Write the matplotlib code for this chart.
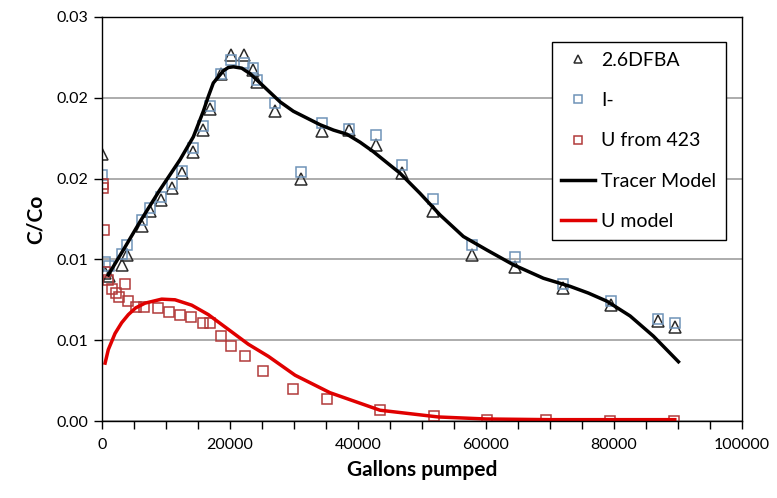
import matplotlib
matplotlib.use("Agg")
import matplotlib.pyplot as plt
from matplotlib.ticker import MultipleLocator, FixedLocator, FuncFormatter

plt.rcParams['font.family'] = ['Lato', 'DejaVu Sans']

# measured tracer samples (gallons pumped, C/Co)
tracer_gal = [0, 500, 1200, 3100, 3900, 6250, 7550, 9260, 10930, 12600, 14300,
              15870, 16900, 18590, 20150, 22280, 23590, 24200, 27070, 31080,
              34460, 38630, 42800, 46860, 51800, 57800, 64560, 72000, 79500,
              86940, 89550]
dfba = [0.0198, 0.0110, 0.0108, 0.0116, 0.0123, 0.0145, 0.0156, 0.0164, 0.0173,
        0.0184, 0.0200, 0.0216, 0.0232, 0.0258, 0.0272, 0.0272, 0.0261, 0.0252,
        0.0230, 0.0180, 0.0215, 0.0216, 0.0205, 0.0184, 0.0156, 0.0123, 0.0114,
        0.0099, 0.0086, 0.0074, 0.0070]
iodide = [0.0183, 0.0118, 0.0115, 0.0124, 0.0131, 0.0149, 0.0158, 0.0166, 0.0176,
          0.0186, 0.0203, 0.0219, 0.0234, 0.0258, 0.0268, 0.0266, 0.0262, 0.0253,
          0.0236, 0.0185, 0.0221, 0.0217, 0.0212, 0.0190, 0.0165, 0.0131, 0.0122,
          0.0102, 0.0089, 0.0076, 0.0073]

# uranium samples
u_gal = [250, 250, 400, 500, 1040, 1560, 2190, 2700, 3640, 4160, 5310, 6650,
         8750, 10510, 12230, 13900, 15770, 16920, 18630, 20150, 22380, 25240,
         29930, 35150, 43470, 51900, 60140, 69400, 79400, 89440]
u_conc = [0.0176, 0.0173, 0.0142, 0.0111, 0.0105, 0.0098, 0.0095, 0.0092, 0.0102,
          0.0089, 0.0085, 0.0085, 0.0084, 0.0081, 0.0079, 0.0077, 0.0073, 0.0073,
          0.0063, 0.0056, 0.0048, 0.0037, 0.0024, 0.0016, 0.0008, 0.0004, 0.0001,
          0.0001, 0.0000, 0.0000]

# model curves
tm_gal = [1030, 3500, 5980, 9000, 12230, 14310, 15870, 16650, 17430, 18990,
          19770, 20560, 21870, 22500, 23160, 24730, 26290, 27850, 29930, 32020,
          34100, 36200, 38270, 40350, 42420, 44500, 46590, 49720, 52840, 56480,
          60140, 64290, 68980, 73140, 76000, 78880, 82520, 86160, 90070]
tm_conc = [0.01085, 0.0128, 0.0148, 0.0171, 0.0194, 0.0211, 0.0230, 0.0241,
           0.0251, 0.0260, 0.02625, 0.0263, 0.0262, 0.0260, 0.0258, 0.0251,
           0.0244, 0.0237, 0.0230, 0.0225, 0.0220, 0.0216, 0.0213, 0.0207,
           0.0200, 0.0192, 0.0184, 0.0169, 0.0153, 0.0137, 0.0127, 0.0116,
           0.0106, 0.0100, 0.0095, 0.0089, 0.0078, 0.0063, 0.0044]
um_gal = [530, 1030, 2080, 3120, 4160, 5300, 6760, 9370, 11450, 14060, 16650,
          19780, 22900, 26030, 30200, 35660, 43470, 52580, 60000, 70000, 80000,
          89500]
um_conc = [0.0043, 0.0053, 0.0065, 0.0073, 0.0079, 0.0084, 0.00875, 0.00905,
           0.0090, 0.0086, 0.0079, 0.0068, 0.0057, 0.0048, 0.0034, 0.0021,
           0.0008, 0.0003, 0.00015, 0.0001, 0.0001, 0.0001]

fig = plt.figure(figsize=(7.77, 4.98), dpi=100)
ax = fig.add_axes([0.1309, 0.1546, 0.8241, 0.8113])

ax.plot(tracer_gal, dfba, '^', ms=8, mfc='none', mec='#2b2b2b', mew=1.1, label='2.6DFBA')
ax.plot(tracer_gal, iodide, 's', ms=7, mfc='none', mec='#6f93b8', mew=1.1, label='I-')
ax.plot(u_gal, u_conc, 's', ms=7, mfc='none', mec='#b23a3a', mew=1.1, label='U from 423')
ax.plot(tm_gal, tm_conc, '-', color='black', lw=2.5, label='Tracer Model')
ax.plot(um_gal, um_conc, '-', color='#e00000', lw=2.5, label='U model')

ax.set_xlim(0, 100000)
ax.set_ylim(0, 0.03)
ax.xaxis.set_major_locator(MultipleLocator(20000))
ax.xaxis.set_minor_locator(MultipleLocator(5000))
ax.yaxis.set_major_locator(FixedLocator([0, 0.006, 0.012, 0.018, 0.024, 0.03]))
ax.yaxis.set_major_formatter(FuncFormatter(lambda v, p: '%.2f' % v))
ax.tick_params(which='both', direction='out', length=6, width=1, labelsize=11.5,
               colors='black')
ax.tick_params(axis='x', pad=6)
ax.grid(axis='y', color='#a6a6a6', lw=1.3)
ax.set_axisbelow(True)
for s in ax.spines.values():
    s.set_linewidth(1.0)

ax.set_xlabel('Gallons pumped', fontsize=15, fontweight='bold', labelpad=6)
ax.set_ylabel('C/Co', fontsize=15, fontweight='bold', labelpad=8)

leg = ax.legend(loc='upper right', bbox_to_anchor=(0.975, 0.938), borderaxespad=0,
                fontsize=14, frameon=True, fancybox=False, edgecolor='black',
                framealpha=1, labelspacing=1.2, handlelength=1.75,
                handletextpad=0.3, borderpad=0.5, markerscale=0.8)
leg.get_frame().set_linewidth(1.0)

fig.savefig('out.png', dpi=100)
